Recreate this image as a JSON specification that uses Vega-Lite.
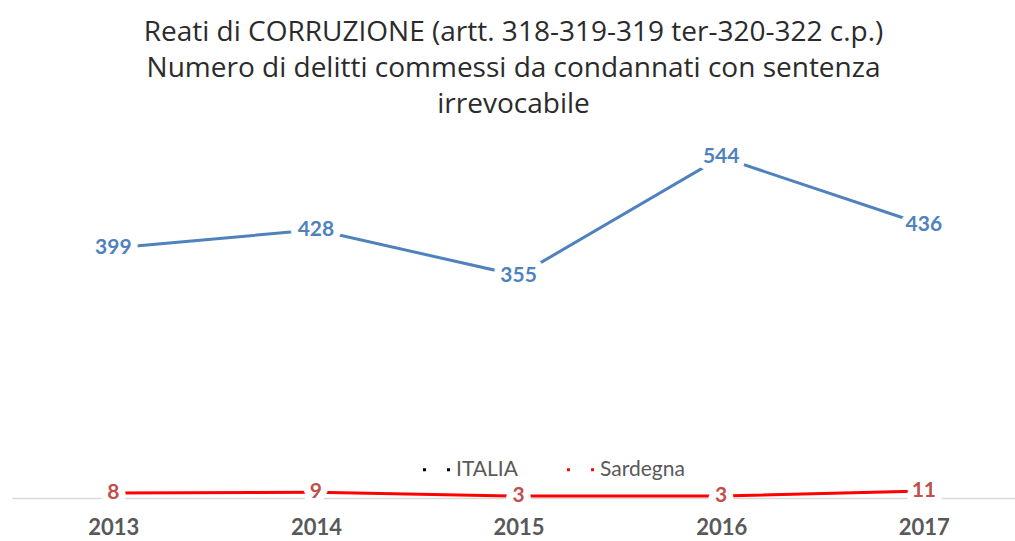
{
  "$schema": "https://vega.github.io/schema/vega-lite/v6.json",
  "autosize": {"type": "none"},
  "width": 1003,
  "height": 376,
  "padding": {"left": 12, "top": 122, "right": 0, "bottom": 43},
  "background": "white",
  "title": {
    "text": ["Reati di CORRUZIONE (artt. 318-319-319 ter-320-322 c.p.)", "Numero di delitti commessi da condannati con sentenza", "irrevocabile"],
    "font": "Open Sans",
    "fontSize": 28,
    "fontWeight": "normal",
    "color": "#2b2b2b",
    "lineHeight": 36,
    "anchor": "middle",
    "offset": 3
  },
  "config": {"view": {"stroke": null}},
  "data": {
    "values": [
      {"year": 2013, "serie": "ITALIA", "value": 399},
      {"year": 2014, "serie": "ITALIA", "value": 428},
      {"year": 2015, "serie": "ITALIA", "value": 355},
      {"year": 2016, "serie": "ITALIA", "value": 544},
      {"year": 2017, "serie": "ITALIA", "value": 436},
      {"year": 2013, "serie": "Sardegna", "value": 8},
      {"year": 2014, "serie": "Sardegna", "value": 9},
      {"year": 2015, "serie": "Sardegna", "value": 3},
      {"year": 2016, "serie": "Sardegna", "value": 3},
      {"year": 2017, "serie": "Sardegna", "value": 11}
    ]
  },
  "encoding": {
    "x": {
      "field": "year", "type": "quantitative",
      "scale": {"domain": [2012.5, 2017.45], "nice": false, "zero": false},
      "axis": {
        "title": null, "values": [2013, 2014, 2015, 2016, 2017], "format": "d",
        "grid": false, "ticks": false, "domainColor": "#D9D9D9", "domainWidth": 1.5,
        "labelFont": "Lato", "labelFontSize": 22, "labelFontWeight": "bold", "labelColor": "#595959",
        "labelPadding": 19
      }
    },
    "y": {
      "field": "value", "type": "quantitative",
      "scale": {"domain": [0, 600], "nice": false},
      "axis": null
    }
  },
  "layer": [
    {
      "mark": {"type": "point", "filled": true, "opacity": 0},
      "encoding": {
        "fill": {
          "field": "serie", "type": "nominal",
          "scale": {"domain": ["ITALIA", "Sardegna"], "range": ["#000000", "#FF0000"]},
          "legend": {
            "title": null, "orient": "none", "direction": "horizontal",
            "legendX": 411, "legendY": 334,
            "symbolType": "M-1,-0.11H-0.78V0.11H-1Z M0.78,-0.11H1V0.11H0.78Z",
            "symbolSize": 729, "symbolStrokeWidth": 0, "symbolOpacity": 1,
            "labelFont": "Lato", "labelFontSize": 21, "labelColor": "#595959", "labelOffset": 6,
            "columnPadding": 49
          }
        }
      }
    },
    {
      "mark": {"type": "line", "strokeWidth": 3, "strokeCap": "round"},
      "encoding": {
        "color": {
          "field": "serie", "type": "nominal",
          "scale": {"domain": ["ITALIA", "Sardegna"], "range": ["#4F81BD", "#FF0000"]},
          "legend": null
        }
      }
    },
    {
      "mark": {"type": "text", "font": "Lato", "fontSize": 21, "fontWeight": "bold", "stroke": "white", "strokeWidth": 14, "strokeJoin": "round", "fill": "white"},
      "encoding": {"text": {"field": "value", "type": "quantitative"}}
    },
    {
      "mark": {"type": "text", "font": "Lato", "fontSize": 21, "fontWeight": "bold"},
      "encoding": {
        "text": {"field": "value", "type": "quantitative"},
        "color": {"condition": {"test": "datum.serie === 'ITALIA'", "value": "#4F81BD"}, "value": "#C0504D"}
      }
    }
  ]
}
